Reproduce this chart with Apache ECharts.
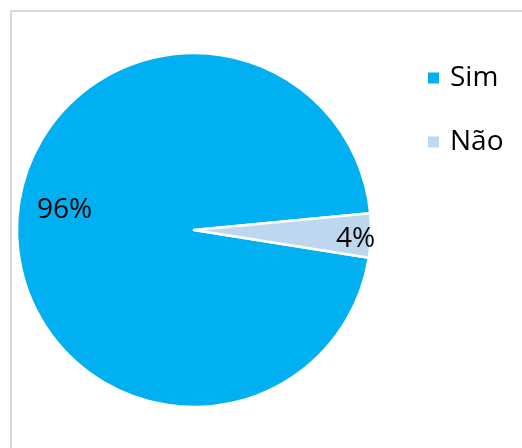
<!DOCTYPE html>
<html>
<head>
<meta charset="utf-8">
<script src="https://cdn.jsdelivr.net/npm/echarts@6/dist/echarts.min.js"></script>
<style>
  html, body { margin: 0; padding: 0; background: #ffffff; }
  #chart { width: 522px; height: 448px; }
</style>
</head>
<body>
<div id="chart"></div>
<script>
// Answer categories and their shares (percent)
const categories = ['Sim', 'Não'];
const shares = [96, 4];
const sliceColors = ['#00B0F0', '#BDD7EE'];

// Label nudges relative to the default "inside" anchor of each slice
const labelShift = [[-38, -17], [70, 6]];

const chart = echarts.init(document.getElementById('chart'), null, { renderer: 'canvas' });

const FONT = '"Open Sans", "Noto Sans", sans-serif';

chart.setOption({
  backgroundColor: '#ffffff',
  animation: false,
  graphic: [{
    type: 'rect',
    silent: true,
    shape: { x: 11, y: 11, width: 700, height: 700 },
    style: { fill: 'none', stroke: '#d9d9d9', lineWidth: 2 }
  }],
  legend: {
    orient: 'vertical',
    left: 421,
    top: 58,
    itemWidth: 13,
    itemHeight: 13,
    itemGap: 34,
    icon: 'rect',
    data: categories,
    textStyle: {
      fontFamily: FONT,
      fontSize: 28,
      color: '#000000',
      lineHeight: 30,
      padding: [0, 0, 0, 5]
    }
  },
  series: [{
    type: 'pie',
    center: [194, 230],
    radius: 177,
    startAngle: -9,
    clockwise: true,
    avoidLabelOverlap: false,
    itemStyle: { borderColor: '#ffffff', borderWidth: 2.5 },
    label: {
      show: true,
      position: 'inside',
      formatter: '{c}%',
      fontFamily: FONT,
      fontSize: 28,
      color: '#000000'
    },
    labelLine: { show: false },
    labelLayout: function (params) {
      const s = labelShift[params.dataIndex];
      return { dx: s[0], dy: s[1] };
    },
    emphasis: { disabled: true },
    data: categories.map((name, i) => ({
      name: name,
      value: shares[i],
      itemStyle: { color: sliceColors[i] }
    }))
  }]
});
</script>
</body>
</html>
